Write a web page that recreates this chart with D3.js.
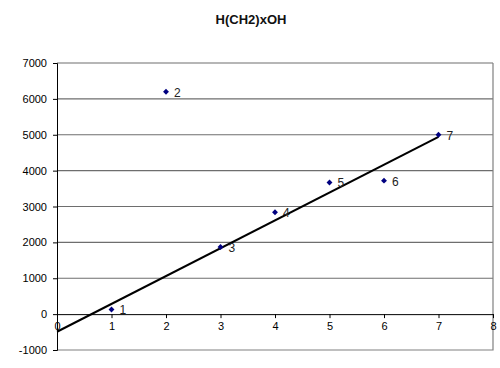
<!DOCTYPE html>
<html>
<head>
<meta charset="utf-8">
<script src="https://cdn.jsdelivr.net/npm/d3@7"></script>
<style>
  body { margin: 0; background: #fff; }
  text { font-family: "Liberation Sans", Arial, sans-serif; }
</style>
</head>
<body>
<svg id="chart" width="500" height="368"></svg>
<script>
// Data
var xs = [1, 2, 3, 4, 5, 6, 7];
var ys = [130, 6200, 1870, 2840, 3670, 3720, 5000];
var pointLabels = ["1", "2", "3", "4", "5", "6", "7"];
// point 2 is left out of the trend line fit
var trendExclude = [2];
var xTicks = [0, 1, 2, 3, 4, 5, 6, 7, 8];
var yTicks = [-1000, 0, 1000, 2000, 3000, 4000, 5000, 6000, 7000];

var svg = d3.select("#chart");

var x = d3.scaleLinear().domain([0, 8]).range([57, 493]);
var y = d3.scaleLinear().domain([-1000, 7000]).range([350, 63]);

// Title
svg.append("text")
    .attr("x", 251)
    .attr("y", 24)
    .attr("text-anchor", "middle")
    .style("font-size", "13px")
    .style("font-weight", "bold")
    .style("fill", "#111")
    .text("H(CH2)xOH");

// Gridlines
svg.append("g").selectAll("line")
    .data(yTicks.filter(function (d) { return d > 0; }))
    .enter().append("line")
    .attr("x1", x(0)).attr("x2", x(8))
    .attr("y1", function (d) { return y(d); })
    .attr("y2", function (d) { return y(d); })
    .style("stroke", "#6e6e6e")
    .style("stroke-width", 1.2);

// Plot area border (right and bottom)
svg.append("path")
    .attr("d", "M" + x(8) + "," + y(7000) + "V" + y(-1000) + "H" + x(0))
    .style("fill", "none")
    .style("stroke", "#808080")
    .style("stroke-width", 1.2);

// plain integers, hyphen for minus
function plain(d) { return String(d); }

// Y axis
var yAxis = d3.axisLeft(y).tickValues(yTicks).tickFormat(plain).tickSize(4).tickPadding(6);
var gy = svg.append("g")
    .attr("transform", "translate(" + x(0) + ",0)")
    .call(yAxis);
gy.selectAll("text").style("font-size", "11px").style("fill", "#000")
    .style("font-family", "'Liberation Sans', Arial, sans-serif");
gy.selectAll("line, path").style("stroke", "#000");

// X axis, crossing at y = 0
var xAxis = d3.axisBottom(x).tickValues(xTicks).tickFormat(plain).tickSize(4).tickSizeOuter(0).tickPadding(4);
var gx = svg.append("g")
    .attr("transform", "translate(0," + y(0) + ")")
    .call(xAxis);
gx.selectAll("text").style("font-size", "11px").style("fill", "#000")
    .style("font-family", "'Liberation Sans', Arial, sans-serif");
gx.selectAll("line, path").style("stroke", "#000");

// Linear trend line (least squares)
var fitX = [], fitY = [];
xs.forEach(function (d, i) {
    if (trendExclude.indexOf(d) < 0) { fitX.push(d); fitY.push(ys[i]); }
});
var mx = d3.mean(fitX), my = d3.mean(fitY);
var sxy = d3.sum(fitX, function (d, i) { return (d - mx) * (fitY[i] - my); });
var sxx = d3.sum(fitX, function (d) { return (d - mx) * (d - mx); });
var slope = sxy / sxx, intercept = my - slope * mx;

svg.append("line")
    .attr("x1", x(0)).attr("y1", y(intercept))
    .attr("x2", x(7)).attr("y2", y(intercept + slope * 7))
    .style("stroke", "#000")
    .style("stroke-width", 2);

// Points
var pts = xs.map(function (d, i) { return { x: d, y: ys[i], label: pointLabels[i] }; });

svg.append("g").selectAll("path")
    .data(pts)
    .enter().append("path")
    .attr("d", d3.symbol().type(d3.symbolDiamond2).size(22))
    .attr("transform", function (d) { return "translate(" + x(d.x) + "," + y(d.y) + ")"; })
    .style("fill", "#000080");

svg.append("g").selectAll("text")
    .data(pts)
    .enter().append("text")
    .attr("x", function (d) { return x(d.x) + 8; })
    .attr("y", function (d) { return y(d.y) + 5; })
    .style("font-size", "12px")
    .style("fill", "#222")
    .text(function (d) { return d.label; });
</script>
</body>
</html>
